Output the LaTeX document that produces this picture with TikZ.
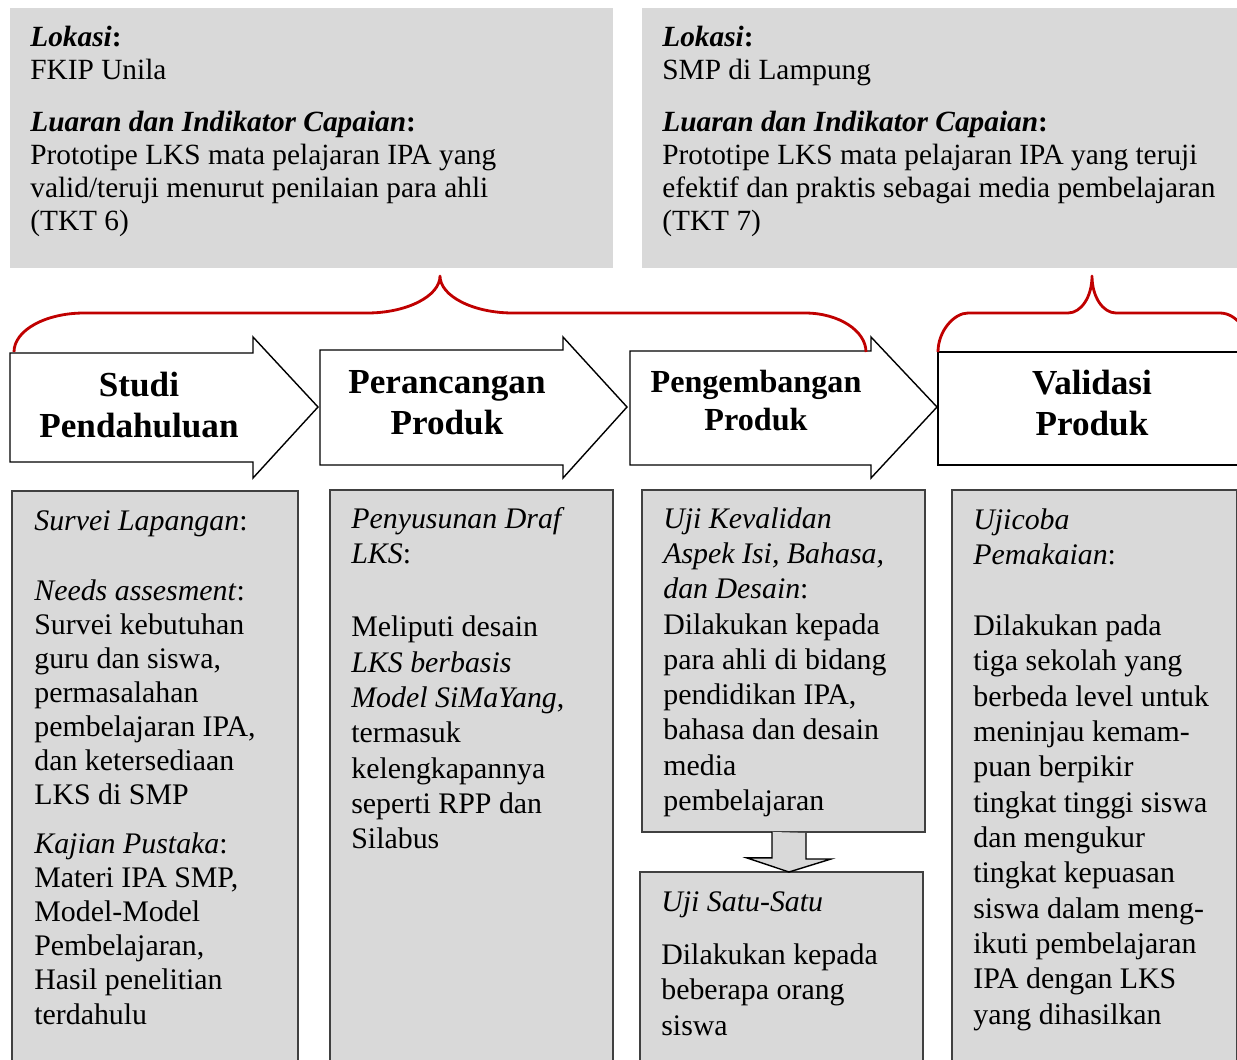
\documentclass[tikz,border=0pt]{standalone}
\usepackage{fontspec}
\setmainfont{Liberation Serif}
\usetikzlibrary{positioning,calc}
\definecolor{PanelGray}{RGB}{217,217,217}
\definecolor{FrameGray}{RGB}{64,64,64}
\definecolor{BraceRed}{RGB}{192,0,0}
\tikzset{
  panel/.style={fill=PanelGray,draw=none,anchor=north west,inner sep=0pt,outer sep=0pt},
  column/.style={fill=PanelGray,draw=FrameGray,line width=0.9pt,anchor=north west,
    inner sep=0pt,outer sep=0pt},
  paneltext/.style={anchor=north west,align=left,inner sep=0pt,
    font=\fontsize{16.7}{18.8}\selectfont},
  coltext/.style={anchor=north west,align=left,inner sep=0pt,
    font=\fontsize{17}{20.1}\selectfont},
  stagearrow/.style={draw=black,fill=white,line width=0.8pt,line join=miter},
  stagetext/.style={align=center,inner sep=0pt,font=\fontsize{20}{23.3}\selectfont\bfseries},
  stagebox/.style={draw=black,fill=white,line width=0.8pt,anchor=north west,
    inner sep=0pt,outer sep=0pt,align=center,font=\fontsize{20}{23.3}\selectfont\bfseries},
  droparrow/.style={draw=black,fill=PanelGray,line width=0.8pt,line join=miter},
  bracket/.style={draw=BraceRed,line width=1.6pt,line join=round}
}

\begin{document}
\begin{tikzpicture}[x=0.02cm,y=-0.02cm]
  \useasboundingbox (0,0) rectangle (1237,1059);
  \clip (0,0) rectangle (1237,1059);

  % location panels
  \node[panel,minimum width=12.06cm,minimum height=5.2cm] (lokasiFkip) at (10,8) {};
  \node[panel,minimum width=11.9cm,minimum height=5.2cm] (lokasiSmp) at (642,8) {};
  \node[paneltext] (fkipText) at ([shift={(20,18)}]lokasiFkip.north west) {
    \textbf{\textit{Lokasi}:}\\
    FKIP Unila\\[10.8pt]
    \textbf{\textit{Luaran dan Indikator Capaian}:}\\
    Prototipe LKS mata pelajaran IPA yang\\
    valid/teruji menurut penilaian para ahli\\
    (TKT 6)
  };
  \node[paneltext] (smpText) at ([shift={(20,18)}]lokasiSmp.north west) {
    \textbf{\textit{Lokasi}:}\\
    SMP di Lampung\\[10.8pt]
    \textbf{\textit{Luaran dan Indikator Capaian}:}\\
    Prototipe LKS mata pelajaran IPA yang teruji\\
    efektif dan praktis sebagai media pembelajaran\\
    (TKT 7)
  };

  % stages
  \draw[stagearrow] (10,353) -- (253,353) -- (253,337) -- (318,407) -- (253,478)
    -- (253,462) -- (10,462) -- cycle;
  \draw[stagearrow] (320,350) -- (563,350) -- (563,337) -- (627,407) -- (563,478)
    -- (563,465) -- (320,465) -- cycle;
  \draw[stagearrow] (630,351) -- (871,351) -- (871,337) -- (937,407) -- (871,478)
    -- (871,465) -- (630,465) -- cycle;
  \node[stagetext] (studi) at (139,405) {Studi\\Pendahuluan};
  \node[stagetext] (perancangan) at (447,403) {Perancangan\\Produk};
  \node[stagetext,font=\fontsize{18.3}{21.6}\selectfont\bfseries] (pengembangan) at (756,401)
    {Pengembangan\\Produk};
  \node[stagebox,minimum width=6.16cm,minimum height=2.26cm,text depth=6pt] (validasi)
    at (938,352) {Validasi\\Produk};

  % columns
  \node[column,minimum width=5.72cm,minimum height=12.2cm] (survei) at (12,491) {};
  \node[column,minimum width=5.66cm,minimum height=12.2cm] (penyusunan) at (330,490) {};
  \node[column,minimum width=5.66cm,minimum height=6.84cm] (kevalidan) at (642,490) {};
  \node[column,minimum width=5.66cm,minimum height=4.6cm] (satusatu) at (640,872) {};
  \node[column,minimum width=5.7cm,minimum height=12.2cm] (ujicoba) at (952,490) {};

  \node[coltext,font=\fontsize{17}{19.4}\selectfont] (surveiText)
    at ([shift={(22,19)}]survei.north west) {
    \textit{Survei Lapangan}:\\[20.4pt]
    \textit{Needs assesment}:\\
    Survei kebutuhan\\
    guru dan siswa,\\
    permasalahan\\
    pembelajaran IPA,\\
    dan ketersediaan\\
    LKS di SMP\\[8.5pt]
    \textit{Kajian Pustaka}:\\
    Materi IPA SMP,\\
    Model-Model\\
    Pembelajaran,\\
    Hasil penelitian\\
    terdahulu
  };
  \node[coltext] (penyusunanText) at ([shift={(21,17)}]penyusunan.north west) {
    \textit{Penyusunan Draf}\\
    \textit{LKS}:\\[21.5pt]
    Meliputi desain\\
    \textit{LKS berbasis}\\
    \textit{Model SiMaYang},\\
    termasuk\\
    kelengkapannya\\
    seperti RPP dan\\
    Silabus
  };
  \node[coltext] (kevalidanText) at ([shift={(21,17)}]kevalidan.north west) {
    \textit{Uji Kevalidan}\\
    \textit{Aspek Isi, Bahasa,}\\
    \textit{dan Desain}:\\
    Dilakukan kepada\\
    para ahli di bidang\\
    pendidikan IPA,\\
    bahasa dan desain\\
    media\\
    pembelajaran
  };
  \node[coltext] (satusatuText) at ([shift={(21,19)}]satusatu.north west) {
    \textit{Uji Satu-Satu}\\[10.2pt]
    Dilakukan kepada\\
    beberapa orang\\
    siswa
  };
  \node[coltext] (ujicobaText) at ([shift={(21,18)}]ujicoba.north west) {
    \textit{Ujicoba}\\
    \textit{Pemakaian}:\\[20.4pt]
    Dilakukan pada\\
    tiga sekolah yang\\
    berbeda level untuk\\
    meninjau kemam-\\
    puan berpikir\\
    tingkat tinggi siswa\\
    dan mengukur\\
    tingkat kepuasan\\
    siswa dalam meng-\\
    ikuti pembelajaran\\
    IPA dengan LKS\\
    yang dihasilkan
  };

  % arrow between the two tests
  \coordinate (dropx) at (789,0);
  \filldraw[droparrow] ($(kevalidan.south -| dropx)+(-17,0)$) -- ++(0,26) -- ++(-25,0)
    -- (satusatu.north -| dropx) -- ++(42,-13) -- ++(-25,0) -- ++(0,-26);

  % red braces
  \draw[bracket] (14,352) .. controls (14,330) and (46,313) .. (84,313) -- (367,313)
    .. controls (407,313) and (440,296) .. (440,276)
    .. controls (440,296) and (473,313) .. (513,313) -- (805,313)
    .. controls (839,313) and (866,331) .. (866,352);
  \draw[bracket] (938,352) .. controls (938,331) and (954,313) .. (968,313) -- (1068,313)
    .. controls (1081,313) and (1092,297) .. (1092,276)
    .. controls (1092,297) and (1103,313) .. (1116,313) -- (1220,313)
    .. controls (1236,313) and (1250,331) .. (1250,352);
\end{tikzpicture}
\end{document}
